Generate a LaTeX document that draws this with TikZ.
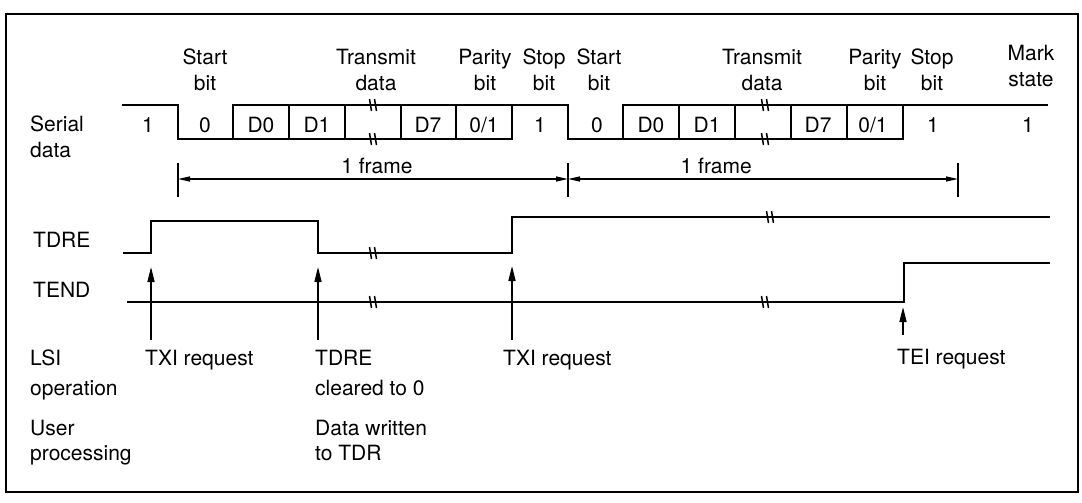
\documentclass[tikz,border=0pt]{standalone}
\usepackage{fontspec}
\setmainfont{TeX Gyre Heros}
\usetikzlibrary{arrows.meta}

\begin{document}
\begin{tikzpicture}[x=1pt,y=-1pt,lbl/.style={font=\fontsize{21}{25}\selectfont,inner sep=0pt,anchor=base west,align=left},head/.style={lbl,anchor=base,align=center},wave/.style={line width=1.6pt,line join=miter},req/.style={-{Triangle[length=15pt,width=7pt]},line width=1.6pt},span/.style={{Triangle[length=12pt,width=5pt]}-{Triangle[length=12pt,width=5pt]},line width=1.2pt},brk/.pic={\draw[line width=1.5pt] (-3.5,-6) -- (-1.5,6) (1.5,-6) -- (3.5,6);}]
\useasboundingbox (0,0) rectangle (1082,503);
\draw[line width=2pt] (6,14) rectangle (1078,492);
% row labels (multi-line nodes sit on their last line)
\node[lbl] (serial) at (30,157) {Serial\\data};
\node[lbl] (tdre) at (33,247) {TDRE};
\node[lbl] (tend) at (33,297) {TEND};
\node[lbl] (lsi) at (30,395) {LSI\\[5pt]operation};
\node[lbl] (user) at (30,460) {User\\processing};
% bit headings
\node[head] (start1) at (205,90) {Start\\bit};
\node[head] (data1) at (376,90) {Transmit\\data};
\node[head] (par1) at (485,90) {Parity\\bit};
\node[head] (stop1) at (544,90) {Stop\\bit};
\node[head] (start2) at (599,90) {Start\\bit};
\node[head] (data2) at (762,90) {Transmit\\data};
\node[head] (par2) at (875,90) {Parity\\bit};
\node[head] (stop2) at (932,90) {Stop\\bit};
\node[head] (mark) at (1031,86) {Mark\\state};
% serial data
\draw[wave] (122,105) -- (178,105) -- (178,139) -- (512,139) -- (512,105);
\draw[wave] (233,139) -- (233,105) -- (568,105) -- (568,139) -- (903,139) -- (903,105);
\draw[wave] (623,139) -- (623,105) -- (1048,105);
\foreach \x in {289,345,401,456,679,735,791,847}
  \draw[wave] (\x,105) -- (\x,139);
\foreach \x/\v [count=\i] in {148/1,205/0,261/D0,317/D1,428/D7,484/0\slash 1,540/1,597/0,651/D0,707/D1,818/D7,873/0\slash 1,933/1,1028/1}
  \node[head] (bit\i) at (\x,132) {\v};
\foreach \x in {373,765}
  \path (\x,105) pic {brk} (\x,139) pic {brk};
% frame spans
\foreach \x [count=\i] in {178,568,958} {
  \coordinate (f\i) at (\x,179);
  \draw[line width=1.2pt] (\x,163) -- (\x,197);
}
\draw[span] (f1) -- (f2) node[head,pos=0.51,yshift=6pt] (fr1) {1 frame};
\draw[span] (f2) -- (f3) node[head,pos=0.38,yshift=6pt] (fr2) {1 frame};
% TDRE and TEND
\draw[wave] (123,253) -- (151,253) -- (151,221) -- (318,221) -- (318,253) -- (512,253) -- (512,217) -- (1050,217);
\draw[wave] (127,302) -- (904,302) -- (904,263) -- (1050,263);
\path (373,253) pic {brk} (770,217) pic {brk} (373,302) pic {brk} (765,302) pic {brk};
% requests
\node[lbl] (txi1) at (145,365) {TXI request};
\node[lbl] (clr) at (315,395) {TDRE\\[5pt]cleared to 0};
\node[lbl] (wr) at (315,460) {Data written\\to TDR};
\node[lbl] (txi2) at (503,365) {TXI request};
\node[lbl] (tei) at (897,364) {TEI request};
\foreach \x/\a/\b [count=\i] in {151/340/267,318/340/267,512/340/266,903/335/307} {
  \coordinate (a\i) at (\x,\a);
  \coordinate (b\i) at (\x,\b);
  \draw[req] (a\i) -- (b\i);
}
\end{tikzpicture}
\end{document}
